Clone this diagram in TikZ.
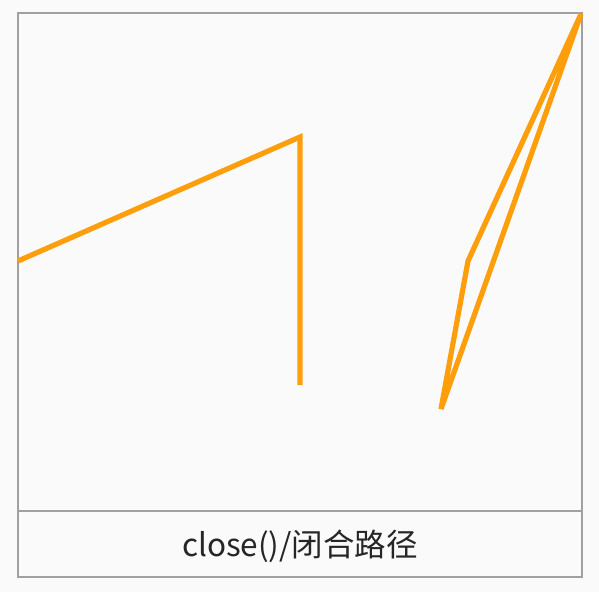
\documentclass[tikz,border=0pt]{standalone}
\usepackage{xcolor}
\usepackage{fontspec}
\usepackage{tikz}
\usetikzlibrary{positioning, calc}
\newfontfamily\cjk{Noto Sans CJK SC}
\definecolor{pathline}{HTML}{FF9E0B}
\definecolor{frame}{HTML}{A0A0A0}
\definecolor{canvasbg}{HTML}{FAFAFA}
\definecolor{caption}{HTML}{262626}

\begin{document}
\begin{tikzpicture}[x=1pt, y=-1pt,
    panel/.style={draw=frame, line width=2.4pt},
    stroke/.style={draw=pathline, line width=5.2pt, line join=miter}]
  \fill[canvasbg] (0,0) rectangle (599,592);
  \useasboundingbox (0,0) rectangle (599,592);
  % frame and caption row
  \draw[panel] (18,13) rectangle (582,577);
  \draw[panel] (18,511) -- (582,511);
  \node[text=caption, font=\cjk\fontsize{31.5}{36}\selectfont] (label) at (300,546) {close()/闭合路径};
  % open path
  \coordinate (a1) at (18,261);
  \coordinate (a2) at (300,137);
  \coordinate (a3) at (300,385);
  \draw[stroke] (a1) -- (a2) -- (a3);
  % closed path
  \coordinate (b1) at (441,409);
  \coordinate (b2) at (468,261);
  \coordinate (b3) at (581,14);
  \draw[stroke] (b1) -- (b2) -- (b3) -- cycle;
\end{tikzpicture}
\end{document}
